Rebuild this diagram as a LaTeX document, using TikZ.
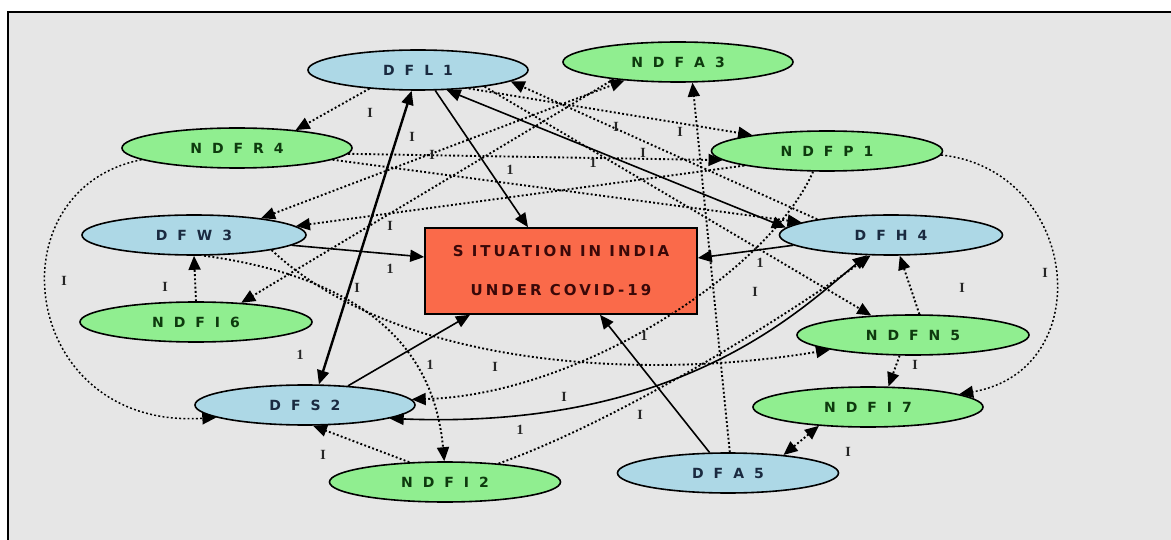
\documentclass[tikz,border=0pt]{standalone}
\usepackage{fontspec}
\newfontfamily\nodefont{DejaVu Sans}
\newfontfamily\boxfont{DejaVu Sans}[LetterSpace=20]
\newfontfamily\lblfont{Liberation Serif}
\usetikzlibrary{shapes.geometric,arrows.meta}
\definecolor{bgc}{HTML}{E6E6E6}
\definecolor{dfblue}{HTML}{ADD8E6}
\definecolor{ndfgreen}{HTML}{90EE90}
\definecolor{boxred}{HTML}{FA6A4A}
\definecolor{boxtxt}{HTML}{3A0808}
\definecolor{dftxt}{HTML}{1A2A40}
\definecolor{ndftxt}{HTML}{0E3A0E}
\newcommand\widesp{\spaceskip 10pt\relax}
\tikzset{
  basenode/.style={ellipse, draw=black, line width=1.6pt, inner sep=0pt, minimum height=40pt,
    font=\nodefont\bfseries\fontsize{14}{16}\selectfont\widesp},
  dfn/.style={basenode, fill=dfblue, text=dftxt},
  ndfn/.style={basenode, fill=ndfgreen, text=ndftxt},
  centerbox/.style={rectangle, draw=black, line width=1.6pt, fill=boxred, text=boxtxt,
    minimum width=272pt, minimum height=86pt, inner sep=0pt, align=center,
    font=\boxfont\bfseries\fontsize{15}{39}\selectfont},
  sol/.style={draw=black, line width=1.6pt, ->},
  dotln/.style={draw=black, line width=1.9pt, dash pattern=on 1.9pt off 2.3pt, ->},
  lbl/.style={font=\lblfont\bfseries\fontsize{14}{14}\selectfont, text=black!85, inner sep=0pt}
}
\begin{document}
\begin{tikzpicture}[x=1pt,y=-1pt,>={Triangle[length=14pt,width=12pt]}]
\useasboundingbox (0,0) rectangle (1171,540);
\path[fill=white] (0,0) rectangle (1171,540);
\begin{scope}
\clip (0,0) rectangle (1171,540);
\draw[line width=2.2pt, fill=bgc] (8,12) rectangle (1190,560);
\end{scope}

% nodes
\node[dfn, minimum width=220pt]  (DFL1)  at (418,70)  {D F L 1};
\node[ndfn, minimum width=230pt] (NDFA3) at (678,62)  {N D F A 3};
\node[ndfn, minimum width=230pt] (NDFR4) at (237,148) {N D F R 4};
\node[ndfn, minimum width=231pt] (NDFP1) at (827,151) {N D F P 1};
\node[dfn, minimum width=224pt]  (DFW3)  at (194,235) {D F W 3};
\node[dfn, minimum width=223pt]  (DFH4)  at (891,235) {D F H 4};
\node[centerbox] (Box) at (561,271) {S ITUATION IN INDIA\\UNDER COVID-19};
\node[ndfn, minimum width=232pt] (NDFI6) at (196,322) {N D F I 6};
\node[ndfn, minimum width=232pt] (NDFN5) at (913,335) {N D F N 5};
\node[dfn, minimum width=220pt]  (DFS2)  at (305,405) {D F S 2};
\node[ndfn, minimum width=230pt] (NDFI7) at (868,407) {N D F I 7};
\node[ndfn, minimum width=231pt] (NDFI2) at (445,482) {N D F I 2};
\node[dfn, minimum width=221pt]  (DFA5)  at (728,473) {D F A 5};

% solid connectors
\draw[sol] (DFL1.-50) -- ([xshift=-33pt]Box.north);
\draw[sol] (DFW3.-6) -- ([yshift=14pt]Box.west);
\draw[sol, <->, line width=2.4pt] (DFL1.-107) -- (DFS2.56);
\draw[sol] (DFS2.24) -- ([xshift=-91pt]Box.south);
\draw[sol, <->] (DFL1.-35) -- (DFH4.176);
\draw[sol] (DFH4.186) -- ([yshift=13pt]Box.east);
\draw[sol, <->] (DFS2.-9) .. controls (680,430) and (800,310) .. (DFH4.-140);
\draw[sol] (DFA5.132) -- ([xshift=39pt]Box.south);

% dotted connectors
\draw[dotln] (DFL1.-159) -- (NDFR4.17);
\draw[dotln, <->] (DFW3.14) -- (NDFA3.-161);
\draw[dotln] (NDFA3.-165) -- (NDFI6.23);
\draw[dotln] (NDFP1.-170) -- (DFW3.5);
\draw[dotln] (DFH4.168) -- (DFL1.-7);
\draw[dotln] (DFL1.-20) -- (NDFP1.168);
\draw[dotln] (DFL1.-14) -- (NDFN5.155);
\draw[dotln] (NDFR4.-7) -- (DFH4.172);
\draw[dotln] (NDFR4.-3) -- (NDFP1.-175);
\draw[dotln, line width=1.5pt] (NDFR4.-173) .. controls (-10,190) and (20,430) .. (DFS2.-172);
\draw[dotln, line width=1.5pt] (NDFP1.-2) .. controls (1080,170) and (1100,370) .. (NDFI7.8);
\draw[dotln] (NDFI6.north) -- (DFW3.south);
\draw[dotln] (DFW3.-64) .. controls (380,280) and (435,360) .. (NDFI2.92);
\draw[dotln] (DFW3.-11) .. controls (400,370) and (650,380) .. (NDFN5.-170);
\draw[dotln] (NDFP1.-124) .. controls (770,270) and (580,395) .. (DFS2.3);
\draw[dotln] (NDFI2.19) .. controls (620,420) and (780,320) .. (DFH4.-135);
\draw[dotln] (DFA5.85) -- (NDFA3.-55);
\draw[dotln, <->] (NDFI7.-159) -- (DFA5.18);
\draw[dotln] (NDFN5.-123) -- (NDFI7.45);
\draw[dotln] (NDFN5.73) -- (DFH4.-67);
\draw[dotln] (NDFI2.151) -- (DFS2.-69);

% connector labels
\foreach \t/\x/\y [count=\i] in {
  I/370/113, I/412/137, I/432/155, 1/510/170, I/616/127, I/680/132, I/643/153,
  1/593/163, I/390/226, 1/390/269, I/357/288, 1/300/355, I/165/287, I/64/281,
  1/430/365, I/495/367, I/564/397, 1/520/430, I/640/415, 1/644/336, I/755/292,
  1/760/263, I/962/288, I/1045/273, I/915/365, I/848/452, I/323/455}
  \node[lbl] (lab\i) at (\x,\y) {\t};
\end{tikzpicture}
\end{document}
